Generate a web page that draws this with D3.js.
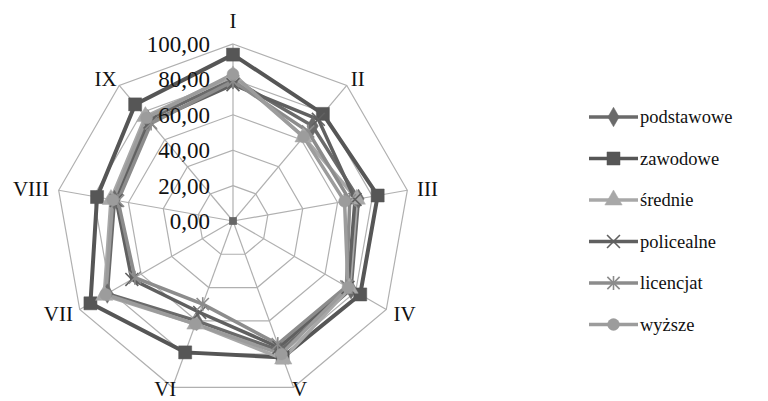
<!DOCTYPE html>
<html>
<head>
<meta charset="utf-8">
<script src="https://cdn.jsdelivr.net/npm/d3@7/dist/d3.min.js"></script>
<style>
	body { margin: 0; background: #fff; }
	text { font-family: "Liberation Serif", "DejaVu Serif", serif; fill: #111; }
</style>
</head>
<body>
<div id="chart"></div>
<script>
var axesLabels = ["I", "II", "III", "IV", "V", "VI", "VII", "VIII", "IX"];
var ticks = [0, 20, 40, 60, 80, 100];
var seriesNames = ["podstawowe", "zawodowe", "średnie", "policealne", "licencjat", "wyższe"];
var podstawowe = [80, 70, 72, 77, 78, 60, 82, 68, 75];
var zawodowe = [94, 79, 83, 83, 82, 79, 93, 78, 86];
var srednie = [82, 62, 71, 76, 83, 62, 84, 70, 77];
var policealne = [77, 75, 70, 75, 76, 55, 66, 67, 73];
var licencjat = [79, 66, 67, 74, 74, 50, 64, 66, 72];
var wyzsze = [83, 62, 64, 75, 80, 62, 83, 69, 76];

var allSeries = [podstawowe, zawodowe, srednie, policealne, licencjat, wyzsze];
var colors = ["#6a6a6a", "#565656", "#a8a8a8", "#606060", "#8c8c8c", "#9c9c9c"];
var symbols = [d3.symbolDiamond, d3.symbolSquare, d3.symbolTriangle, d3.symbolX, "star", d3.symbolCircle];

var width = 768, height = 401;
var cx = 233, cy = 221, R = 177;

var svg = d3.select("#chart").append("svg")
	.attr("width", width)
	.attr("height", height);

var r = d3.scaleLinear().domain([0, 100]).range([0, R]);
var angle = d3.scaleLinear().domain([0, axesLabels.length]).range([0, 2 * Math.PI]);

function pt(i, v){
	var a = angle(i);
	return [cx + r(v) * Math.sin(a), cy - r(v) * Math.cos(a)];
}

// grid rings
ticks.slice(1).forEach(function(t){
	svg.append("polygon")
		.attr("points", axesLabels.map(function(d, i){ return pt(i, t).join(","); }).join(" "))
		.attr("fill", "none")
		.attr("stroke", "#b0b0b0")
		.attr("stroke-width", 1.2);
});
// spokes
axesLabels.forEach(function(d, i){
	var p = pt(i, 100);
	svg.append("line")
		.attr("x1", cx).attr("y1", cy)
		.attr("x2", p[0]).attr("y2", p[1])
		.attr("stroke", "#b0b0b0")
		.attr("stroke-width", 1.2);
});

// axis labels, pushed out from the outer vertex by their own width
axesLabels.forEach(function(d, i){
	var p = pt(i, 100);
	var a = angle(i);
	var t = svg.append("text")
		.attr("text-anchor", "middle")
		.attr("font-size", 21)
		.text(d);
	var hw = t.node().getComputedTextLength() / 2;
	var x = p[0] + Math.sin(a) * (10 + hw);
	var y = p[1] - Math.cos(a) * (Math.cos(a) > 0.9 ? 23 : 8);
	y = Math.min(y, 389);
	t.attr("x", x).attr("y", y + 7);
});

// series
var line = d3.line().curve(d3.curveLinearClosed);
allSeries.forEach(function(s, k){
	var pts = s.map(function(v, i){ return pt(i, v); });
	svg.append("path")
		.attr("d", line(pts))
		.attr("fill", "none")
		.attr("stroke", colors[k])
		.attr("stroke-width", k == 1 ? 4 : 3.5);
});

function marker(g, k, x, y){
	if(symbols[k] == "star"){
		var star = d3.symbol().type(d3.symbolX).size(100)();
		g.append("path").attr("d", star).attr("transform", "translate(" + x + "," + y + ")")
			.attr("stroke", colors[k]).attr("stroke-width", 1.6).attr("fill", "none");
		g.append("line").attr("x1", x).attr("x2", x).attr("y1", y - 7).attr("y2", y + 7)
			.attr("stroke", colors[k]).attr("stroke-width", 1.6);
		return;
	}
	var size = k == 1 ? 170 : (k == 2 ? 130 : 110);
	var isX = symbols[k] == d3.symbolX;
	g.append("path")
		.attr("d", d3.symbol().type(symbols[k]).size(size)())
		.attr("transform", "translate(" + x + "," + y + ")")
		.attr("fill", isX ? "none" : colors[k])
		.attr("stroke", colors[k])
		.attr("stroke-width", isX ? 1.6 : 0.5);
}

allSeries.forEach(function(s, k){
	var g = svg.append("g");
	s.forEach(function(v, i){
		var p = pt(i, v);
		marker(g, k, p[0], p[1]);
	});
});

// tick labels along axis I
ticks.forEach(function(t){
	svg.append("text")
		.attr("x", cx - 23)
		.attr("y", cy - r(t) + 8)
		.attr("text-anchor", "end")
		.attr("font-size", 23)
		.text(d3.format(".2f")(t).replace(".", ","));
});

// center marker cluster
svg.append("path")
	.attr("d", d3.symbol().type(d3.symbolSquare).size(60)())
	.attr("transform", "translate(" + cx + "," + cy + ")")
	.attr("fill", "#666");

// legend
var legend = svg.append("g");
seriesNames.forEach(function(name, k){
	var y = 117 + k * 41.5;
	legend.append("line")
		.attr("x1", 589).attr("x2", 638)
		.attr("y1", y).attr("y2", y)
		.attr("stroke", colors[k])
		.attr("stroke-width", 3.5);
	marker(legend, k, 613.5, y);
	legend.append("text")
		.attr("x", 640)
		.attr("y", y + 6)
		.attr("font-size", 18.5)
		.text(name);
});
</script>
</body>
</html>
